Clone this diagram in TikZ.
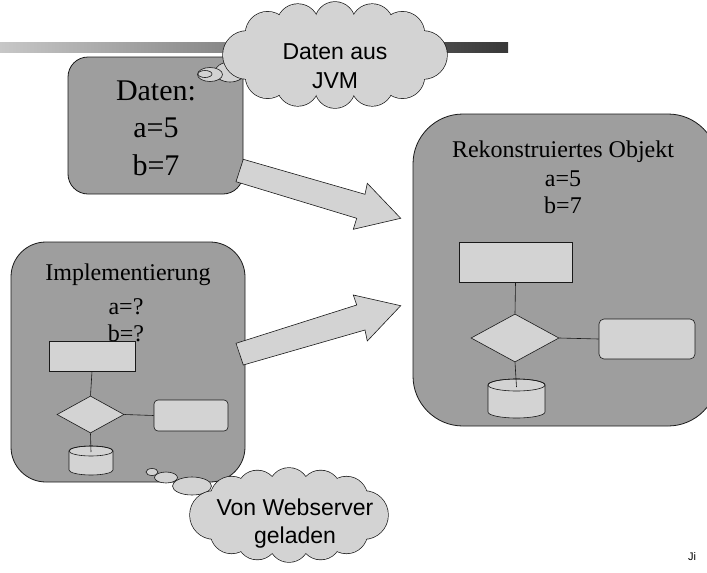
\documentclass[tikz,border=0pt]{standalone}
\usepackage{fontspec}
\setmainfont{Liberation Serif}
\newfontfamily\cloudfont{Liberation Sans}
\usetikzlibrary{shapes.geometric,calc}
\definecolor{boxgray}{RGB}{158,158,158}
\definecolor{shapefill}{RGB}{211,211,211}
\definecolor{edge}{RGB}{25,25,25}
\begin{document}
\begin{tikzpicture}[x=1pt,y=-1pt,
  panel/.style={draw=edge, line width=0.8pt, fill=boxgray, inner sep=0pt},
  part/.style={draw=edge, line width=0.6pt, fill=shapefill, inner sep=0pt},
  link/.style={draw=edge, line width=0.6pt},
  bubble/.style={draw=edge, line width=0.6pt, fill=shapefill},
  puffrim/.style={draw=edge, line width=1.4pt},
  puffbody/.style={fill=shapefill},
  bigtxt/.style={font=\fontsize{30}{36}\selectfont, anchor=base, inner sep=0pt},
  midtxt/.style={font=\fontsize{24}{29}\selectfont, anchor=base, inner sep=0pt},
  cloudtxt/.style={font=\cloudfont\fontsize{23}{28}\selectfont, anchor=base, inner sep=0pt},
  blockarrow/.style={draw=edge, line width=0.6pt, fill=shapefill, line join=miter}]

\useasboundingbox (0,0) rectangle (707,573);
\clip (0,0) rectangle (707,573);

% header bar
\shade[left color=black!22, middle color=black!58, right color=black!78]
  (0,42) rectangle (508,52);

% ---------- data panel ----------
\node[panel, rounded corners=20pt, minimum width=175pt, minimum height=137pt]
  (data) at (155.5,125.5) {};
\node[bigtxt] (dataT) at (156,100) {Daten:};
\node[bigtxt] (dataA) at (156,137) {a=5};
\node[bigtxt] (dataB) at (156,175) {b=7};

% ---------- implementation panel ----------
\node[panel, rounded corners=35pt, minimum width=234pt, minimum height=240pt]
  (impl) at (128,362) {};
\node[midtxt] (implT) at (128,280) {Implementierung};
\node[midtxt] (implA) at (126,314) {a=?};
\node[midtxt] (implB) at (126,341) {b=?};

\node[part, minimum width=86pt, minimum height=30pt] (ir) at (92,356) {};
\node[part, diamond, minimum width=67pt, minimum height=37pt] (id) at (90.5,414.5) {};
\node[part, rounded corners=4pt, minimum width=74pt, minimum height=31pt] (it) at (191,415.5) {};
% drum
\path[part] (69,451) -- (69,470) arc[start angle=180, end angle=360, x radius=22pt, y radius=5pt]
  -- (113,451) arc[start angle=0, end angle=180, x radius=22pt, y radius=5pt] -- cycle;
\draw[link] (91,451) ellipse[x radius=22pt, y radius=5pt];
\coordinate (ic) at (91,452);
\draw[link] (ir.south) -- (id.north);
\draw[link] (id.east) -- (it.west);
\draw[link] (id.south) -- (ic);

% ---------- reconstructed object panel (runs off the right edge) ----------
\draw[panel, rounded corners=50pt] (413,114) rectangle (718,426);
\coordinate (obj) at (565.5,270);
\node[midtxt] (objT) at (563,157) {Rekonstruiertes Objekt};
\node[midtxt] (objA) at (563,186) {a=5};
\node[midtxt] (objB) at (563,213) {b=7};

\node[part, minimum width=113pt, minimum height=40pt] (or) at (515.5,262) {};
\node[part, diamond, minimum width=88pt, minimum height=48pt] (od) at (515,338) {};
\node[part, rounded corners=5pt, minimum width=96pt, minimum height=40pt] (ot) at (647,339) {};
% drum
\path[part] (488,385) -- (488,412) arc[start angle=180, end angle=360, x radius=28.5pt, y radius=6pt]
  -- (545,385) arc[start angle=0, end angle=180, x radius=28.5pt, y radius=6pt] -- cycle;
\draw[link] (516.5,385) ellipse[x radius=28.5pt, y radius=6pt];
\coordinate (oc) at (516.5,387);
\draw[link] (or.south) -- (od.north);
\draw[link] (od.east) -- (ot.west);
\draw[link] (od.south) -- (oc);

% ---------- block arrows ----------
\draw[blockarrow] (243.3,159.3) -- (365,194.3) -- (367.3,183.3) -- (400.7,218.3)
  -- (353.3,229.3) -- (356.7,218.3) -- (236,181.7) -- cycle;
\draw[blockarrow] (236,343.3) -- (356.7,305) -- (353.3,295) -- (400.7,305.7)
  -- (367.3,341) -- (365,330) -- (243.3,365) -- cycle;

% ---------- thought cloud: Daten aus JVM ----------
\draw[bubble] (230,72) ellipse[x radius=15pt, y radius=10pt];
\draw[bubble] (210,74.5) ellipse[x radius=12.5pt, y radius=7pt];
\draw[bubble] (205,74) ellipse[x radius=7pt, y radius=3.5pt];
% puffs: thick rims first, then the bodies cover their inner halves
\foreach \t/\r in {0/24,40/22,65/21,90/20,115/21,140/22,180/24,220/22,245/21,270/20,295/21,320/22}
  \path[puffrim] ({335+88*cos(\t)},{55+33*sin(\t)}) circle[radius=\r pt];
\foreach \t/\r in {0/24,40/22,65/21,90/20,115/21,140/22,180/24,220/22,245/21,270/20,295/21,320/22}
  \path[puffbody] ({335+88*cos(\t)},{55+33*sin(\t)}) circle[radius=\r pt];
\path[puffbody] (335,55) ellipse[x radius=90pt, y radius=35pt];
\node[cloudtxt] (jvmA) at (335,59) {Daten aus};
\node[cloudtxt] (jvmB) at (335,88) {JVM};

% ---------- thought cloud: Von Webserver geladen ----------
\draw[bubble] (192,486) ellipse[x radius=19.5pt, y radius=9pt];
\draw[bubble] (166,477.5) ellipse[x radius=11.5pt, y radius=5.5pt];
\draw[bubble] (152,472) ellipse[x radius=6pt, y radius=3.5pt];
\foreach \t/\r in {0/24,40/21,65/20,90/20,115/20,140/21,180/24,220/21,245/20,270/20,295/20,320/21}
  \path[puffrim] ({289+75*cos(\t)},{515+27*sin(\t)}) circle[radius=\r pt];
\foreach \t/\r in {0/24,40/21,65/20,90/20,115/20,140/21,180/24,220/21,245/20,270/20,295/20,320/21}
  \path[puffbody] ({289+75*cos(\t)},{515+27*sin(\t)}) circle[radius=\r pt];
\path[puffbody] (289,515) ellipse[x radius=77pt, y radius=29pt];
\node[cloudtxt] (webA) at (295,515) {Von Webserver};
\node[cloudtxt] (webB) at (295,543) {geladen};

% footer
\node[font=\cloudfont\fontsize{11}{13}\selectfont, anchor=base west, inner sep=0pt]
  (foot) at (688,560) {Ji};
\end{tikzpicture}
\end{document}
